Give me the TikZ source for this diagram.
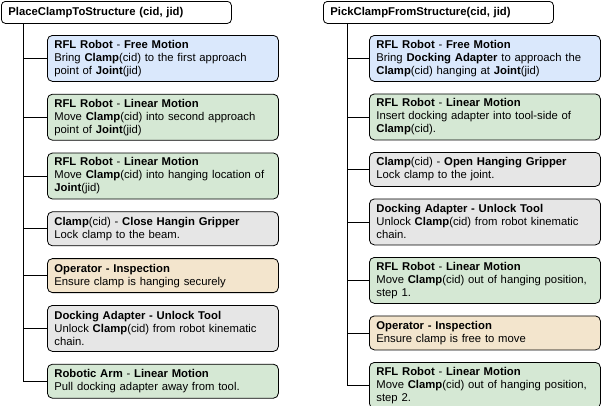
\documentclass[tikz,border=0pt]{standalone}
\usepackage{fontspec}
\setmainfont{Liberation Sans}
\usepackage{xcolor}
\usetikzlibrary{positioning}

\definecolor{freeblue}{HTML}{DAE8FC}
\definecolor{lingreen}{HTML}{D5E8D4}
\definecolor{toolgrey}{HTML}{E6E6E6}
\definecolor{checktan}{HTML}{F3E5CD}

\begin{document}
\begin{tikzpicture}[
  x=1pt, y=-1pt,
  node distance=12pt,
  every node/.style={font=\fontsize{11.3}{13}\selectfont},
  head/.style={draw, rounded corners=4pt, line width=0.8pt, text width=216pt, inner xsep=7pt, minimum height=22pt, align=left, font=\fontsize{11.3}{13}\selectfont\bfseries},
  task/.style={draw, rounded corners=5pt, line width=0.8pt, text width=217pt, inner xsep=7pt, inner ysep=3pt, minimum height=34pt, align=left},
  tall/.style={minimum height=46pt},
  freebox/.style={task, fill=freeblue},
  linbox/.style={task, fill=lingreen},
  toolbox/.style={task, fill=toolgrey},
  checkbox/.style={task, fill=checktan},
  tree/.style={line width=0.8pt}
]
\useasboundingbox (0,0) rectangle (601,405);

% left column
\node[head, anchor=north west] (lhead) at (1,1) {PlaceClampToStructure (cid, jid)};

\node[freebox, tall, anchor=north west] (lb1) at (47,35) {\textbf{RFL Robot} - \textbf{Free Motion}\\Bring \textbf{Clamp}(cid) to the first approach\\point of \textbf{Joint}(jid)};
\node[linbox, tall, below=of lb1] (lb2) {\textbf{RFL Robot} - \textbf{Linear Motion}\\Move \textbf{Clamp}(cid) into second approach\\point of \textbf{Joint}(jid)};
\node[linbox, tall, below=of lb2] (lb3) {\textbf{RFL Robot} - \textbf{Linear Motion}\\Move \textbf{Clamp}(cid) into hanging location of\\\textbf{Joint}(jid)};
\node[toolbox, below=of lb3] (lb4) {\textbf{Clamp}(cid) - \textbf{Close Hangin Gripper}\\Lock clamp to the beam.};
\node[checkbox, below=of lb4] (lb5) {\textbf{Operator - Inspection}\\Ensure clamp is hanging securely};
\node[toolbox, tall, below=of lb5] (lb6) {\textbf{Docking Adapter - Unlock Tool}\\Unlock \textbf{Clamp}(cid) from robot kinematic\\chain.};
\node[linbox, below=of lb6] (lb7) {\textbf{Robotic Arm} - \textbf{Linear Motion}\\Pull docking adapter away from tool.};

\coordinate (ltop) at ([xshift=22pt]lhead.south west);
\draw[tree] (ltop) |- (lb7.west);
\draw[tree] (ltop |- lb1.west) -- (lb1.west);
\draw[tree] (ltop |- lb2.west) -- (lb2.west);
\draw[tree] (ltop |- lb3.west) -- (lb3.west);
\draw[tree] (ltop |- lb4.west) -- (lb4.west);
\draw[tree] (ltop |- lb5.west) -- (lb5.west);
\draw[tree] (ltop |- lb6.west) -- (lb6.west);

% right column
\node[head, anchor=north west] (rhead) at (323,1) {PickClampFromStructure(cid, jid)};

\node[freebox, tall, anchor=north west] (rb1) at (369,35) {\textbf{RFL Robot} - \textbf{Free Motion}\\Bring \textbf{Docking Adapter} to approach the\\\textbf{Clamp}(cid) hanging at \textbf{Joint}(jid)};
\node[linbox, tall, below=11.7pt of rb1] (rb2) {\textbf{RFL Robot} - \textbf{Linear Motion}\\Insert docking adapter into tool-side of\\\textbf{Clamp}(cid).};
\node[toolbox, below=11.7pt of rb2] (rb3) {\textbf{Clamp}(cid) - \textbf{Open Hanging Gripper}\\Lock clamp to the joint.};
\node[toolbox, tall, below=11.7pt of rb3] (rb4) {\textbf{Docking Adapter - Unlock Tool}\\Unlock \textbf{Clamp}(cid) from robot kinematic\\chain.};
\node[linbox, tall, below=11.7pt of rb4] (rb5) {\textbf{RFL Robot} - \textbf{Linear Motion}\\Move \textbf{Clamp}(cid) out of hanging position,\\step 1.};
\node[checkbox, below=11.7pt of rb5] (rb6) {\textbf{Operator - Inspection}\\Ensure clamp is free to move};
\node[linbox, tall, below=11.7pt of rb6] (rb7) {\textbf{RFL Robot} - \textbf{Linear Motion}\\Move \textbf{Clamp}(cid) out of hanging position,\\step 2.};

\coordinate (rtop) at ([xshift=24pt]rhead.south west);
\draw[tree] (rtop) |- (rb7.west);
\draw[tree] (rtop |- rb1.west) -- (rb1.west);
\draw[tree] (rtop |- rb2.west) -- (rb2.west);
\draw[tree] (rtop |- rb3.west) -- (rb3.west);
\draw[tree] (rtop |- rb4.west) -- (rb4.west);
\draw[tree] (rtop |- rb5.west) -- (rb5.west);
\draw[tree] (rtop |- rb6.west) -- (rb6.west);
\end{tikzpicture}
\end{document}
